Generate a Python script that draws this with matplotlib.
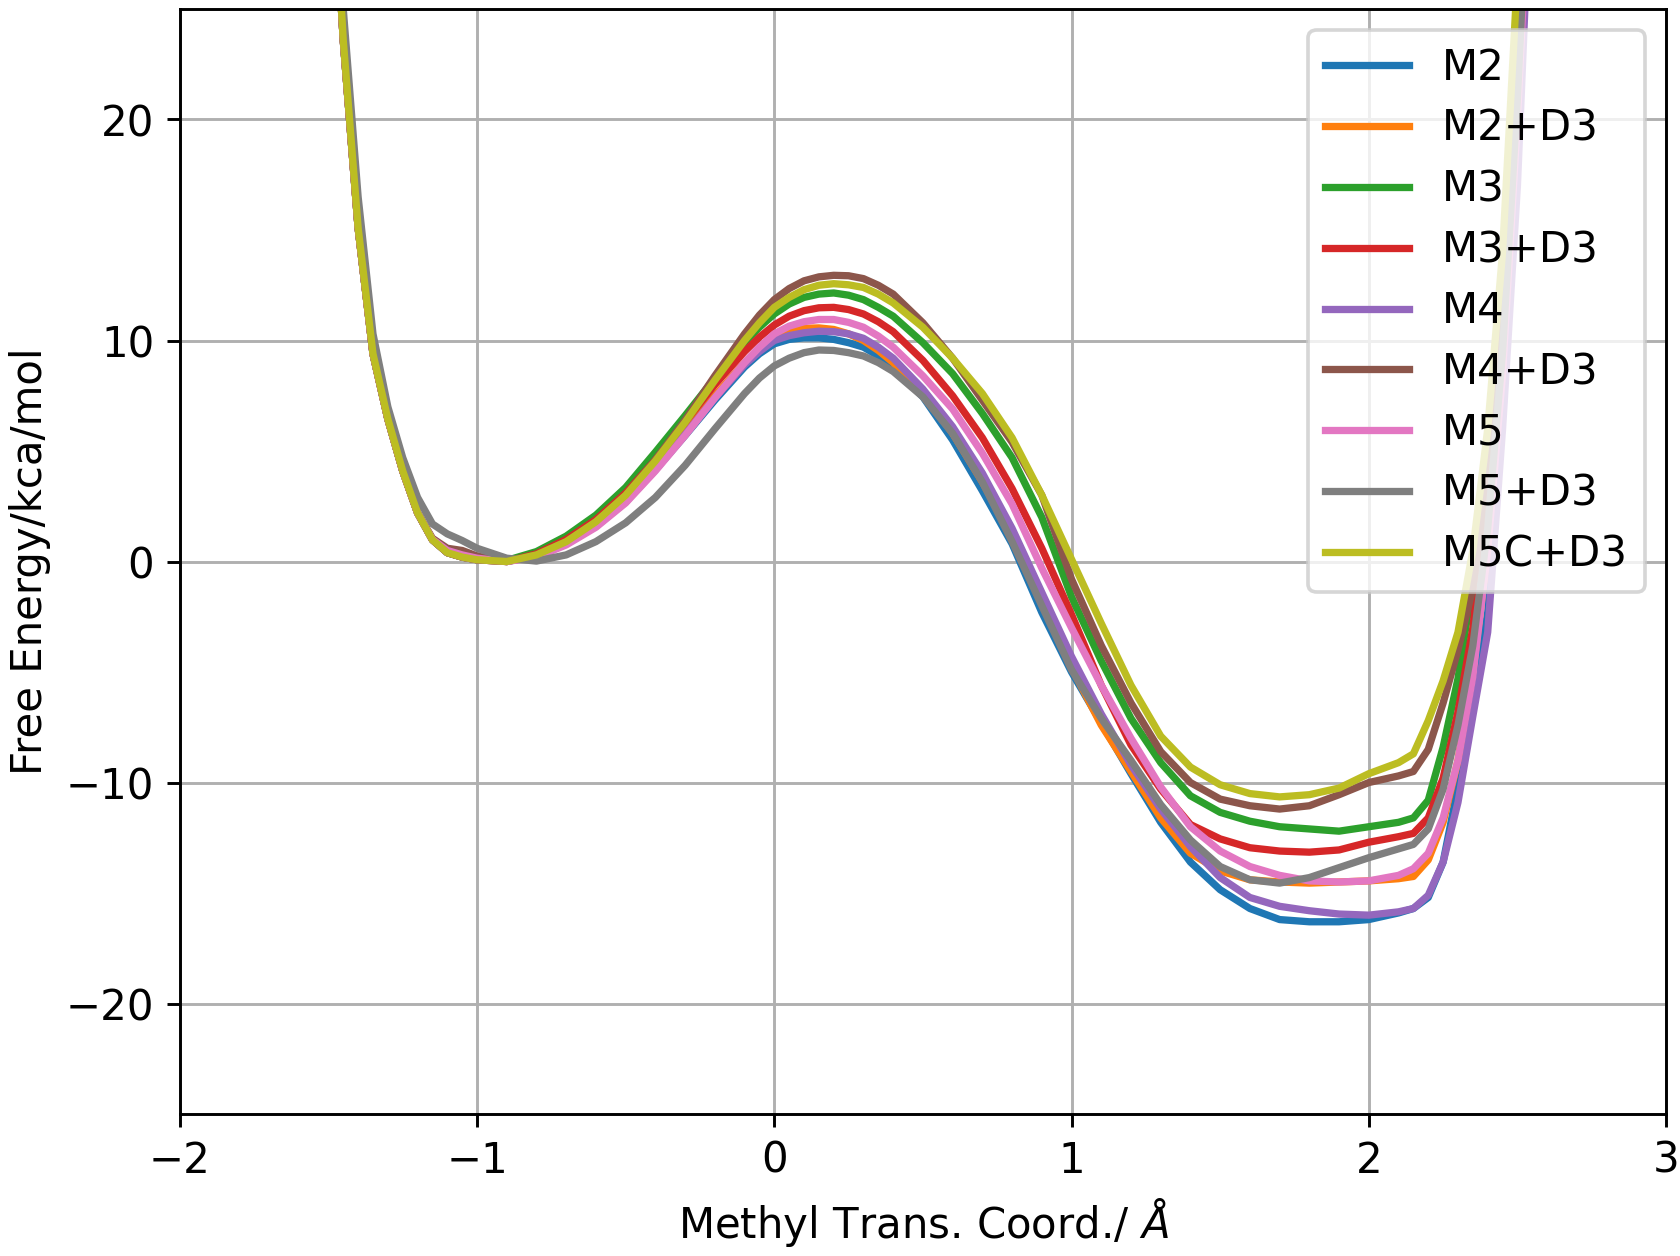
import matplotlib
matplotlib.use("Agg")
import matplotlib.pyplot as plt

# Reaction coordinate grid (Angstrom)
x = [-1.50, -1.45, -1.40, -1.35, -1.30, -1.25, -1.20, -1.15, -1.10, -1.05, -1.00,
     -0.90, -0.80, -0.70, -0.60, -0.50, -0.40, -0.30, -0.20, -0.10,
     -0.05, 0.00, 0.05, 0.10, 0.15, 0.20, 0.25, 0.30, 0.35, 0.40,
     0.50, 0.60, 0.70, 0.80, 0.90, 1.00, 1.10, 1.20, 1.30, 1.40, 1.50,
     1.60, 1.70, 1.80, 1.90, 2.00, 2.10,
     2.15, 2.20, 2.25, 2.30, 2.35, 2.40, 2.45, 2.50, 2.55]

labels = ["M2", "M2+D3", "M3", "M3+D3", "M4", "M4+D3", "M5", "M5+D3", "M5C+D3"]

M2 = [35, 23.6, 15.1, 9.4, 6.45, 4.1, 2.2, 0.98, 0.4, 0.2, 0.08,
      0.0, 0.25, 0.8, 1.6, 2.7, 4.15, 5.7, 7.3, 8.8,
      9.4, 9.85, 10.05, 10.12, 10.12, 10.05, 9.9, 9.7, 9.3, 8.8,
      7.45, 5.5, 3.2, 0.8, -2.3, -5.0, -7.3, -9.6, -11.8, -13.6, -14.85,
      -15.7, -16.2, -16.3, -16.3, -16.2, -15.9,
      -15.7, -15.2, -13.6, -10.2, -6.5, -2.3, 6.5, 18, 34]

M2_D3 = [35, 23.6, 15.1, 9.4, 6.45, 4.1, 2.2, 0.98, 0.4, 0.2, 0.08,
         0.0, 0.25, 0.8, 1.6, 2.7, 4.2, 5.8, 7.5, 9.0,
         9.6, 10.1, 10.4, 10.55, 10.57, 10.5, 10.3, 10.0, 9.55, 9.0,
         7.6, 5.8, 3.6, 1.1, -1.9, -4.8, -7.4, -9.5, -11.6, -13.2, -14.0,
         -14.4, -14.5, -14.55, -14.5, -14.45, -14.35,
         -14.25, -13.5, -11.8, -9.0, -5.0, 0.5, 8.5, 20, 34]

M3 = [35, 23.6, 15.1, 9.4, 6.45, 4.1, 2.2, 0.98, 0.4, 0.2, 0.08,
      0.05, 0.45, 1.15, 2.1, 3.35, 4.95, 6.6, 8.3, 9.9,
      10.6, 11.2, 11.65, 11.95, 12.1, 12.15, 12.05, 11.85, 11.5, 11.1,
      9.9, 8.5, 6.7, 4.7, 2.0, -1.6, -4.5, -7.1, -9.1, -10.6, -11.35,
      -11.75, -12.0, -12.1, -12.2, -12.0, -11.8,
      -11.6, -10.8, -8.4, -5.3, -0.9, 5.0, 12.5, 24, 37]

M3_D3 = [35, 23.6, 15.1, 9.4, 6.45, 4.1, 2.2, 0.98, 0.4, 0.2, 0.08,
         0.0, 0.35, 1.0, 1.9, 3.1, 4.6, 6.3, 8.0, 9.5,
         10.15, 10.7, 11.1, 11.35, 11.48, 11.5, 11.4, 11.2, 10.85, 10.4,
         9.1, 7.5, 5.6, 3.3, 0.6, -2.4, -5.6, -8.3, -10.3, -11.9, -12.55,
         -12.95, -13.1, -13.15, -13.05, -12.7, -12.45,
         -12.3, -11.6, -9.8, -6.8, -3.0, 3.0, 11.0, 22.5, 36]

M4 = [35, 23.6, 15.1, 9.4, 6.45, 4.1, 2.2, 0.98, 0.4, 0.2, 0.08,
      0.0, 0.25, 0.8, 1.6, 2.7, 4.15, 5.75, 7.4, 8.9,
      9.5, 10.0, 10.22, 10.35, 10.42, 10.4, 10.3, 10.1, 9.7, 9.2,
      7.8, 6.1, 4.0, 1.5, -1.4, -4.3, -6.9, -9.2, -11.2, -12.9, -14.3,
      -15.2, -15.6, -15.8, -15.95, -16.0, -15.85,
      -15.7, -15.1, -13.6, -10.9, -7.0, -3.2, 6.0, 17, 33]

M4_D3 = [35, 23.6, 15.1, 9.4, 6.45, 4.1, 2.2, 1.05, 0.6, 0.5, 0.25,
         0.0, 0.3, 0.9, 1.8, 3.0, 4.6, 6.4, 8.4, 10.3,
         11.15, 11.85, 12.35, 12.7, 12.88, 12.95, 12.93, 12.8, 12.5, 12.1,
         10.8, 9.2, 7.3, 5.4, 3.0, -0.8, -3.8, -6.4, -8.6, -10.0, -10.75,
         -11.05, -11.2, -11.05, -10.55, -10.0, -9.7,
         -9.5, -8.5, -6.4, -4.0, -1.2, 4.0, 12.0, 24, 37]

M5 = [35, 23.6, 15.1, 9.4, 6.45, 4.1, 2.2, 1.0, 0.5, 0.3, 0.15,
      0.0, 0.2, 0.75, 1.55, 2.65, 4.1, 5.7, 7.4, 9.0,
      9.7, 10.3, 10.65, 10.85, 10.95, 10.95, 10.82, 10.6, 10.2, 9.7,
      8.4, 6.9, 4.9, 2.6, -0.3, -3.0, -5.6, -8.0, -10.2, -12.0, -13.1,
      -13.8, -14.2, -14.45, -14.5, -14.45, -14.2,
      -13.9, -13.2, -11.6, -9.0, -5.2, 0.5, 8.5, 20, 34]

M5_D3 = [37, 25, 16.5, 10.3, 7.0, 4.7, 2.9, 1.7, 1.25, 0.95, 0.6,
         0.15, 0.02, 0.3, 0.9, 1.75, 2.9, 4.35, 6.0, 7.6,
         8.3, 8.85, 9.2, 9.45, 9.57, 9.55, 9.45, 9.3, 9.0, 8.6,
         7.45, 5.8, 3.6, 0.9, -2.0, -4.9, -7.1, -9.0, -11.0, -12.6, -13.8,
         -14.4, -14.55, -14.3, -13.85, -13.4, -13.0,
         -12.8, -12.1, -10.3, -7.4, -3.8, 1.5, 9.5, 21, 35]

M5C_D3 = [35, 23.6, 15.1, 9.4, 6.45, 4.1, 2.2, 0.98, 0.4, 0.2, 0.08,
          0.0, 0.3, 0.9, 1.8, 3.0, 4.55, 6.3, 8.2, 10.0,
          10.8, 11.5, 11.95, 12.3, 12.5, 12.57, 12.52, 12.4, 12.1, 11.7,
          10.6, 9.2, 7.6, 5.6, 3.0, 0.1, -2.8, -5.6, -7.9, -9.3, -10.1,
          -10.5, -10.65, -10.55, -10.25, -9.6, -9.1,
          -8.7, -7.2, -5.4, -3.2, 0.5, 6.0, 14.0, 26.5, 40]

series = [M2, M2_D3, M3, M3_D3, M4, M4_D3, M5, M5_D3, M5C_D3]

xticks = [-2, -1, 0, 1, 2, 3]
yticks = [-20, -10, 0, 10, 20]

fig = plt.figure(figsize=(6.4, 4.785), dpi=262.5)
ax = fig.add_axes([0.107, 0.113, 0.8847, 0.8798])

for ys, lab in zip(series, labels):
    ax.plot(x, ys, lw=2.0, label=lab)

ax.set_xlim(-2, 3)
ax.set_ylim(-25, 25)
ax.set_xticks(xticks)
ax.set_yticks(yticks)
ax.tick_params(labelsize=11.5)
ax.grid(True)
ax.set_xlabel("Methyl Trans. Coord./ $Å$", fontsize=11.5)
ax.set_ylabel("Free Energy/kca/mol", fontsize=11.5)
ax.legend(loc="upper right", fontsize=11.5, labelspacing=0.45)

fig.savefig("out.png", dpi=262.5)
